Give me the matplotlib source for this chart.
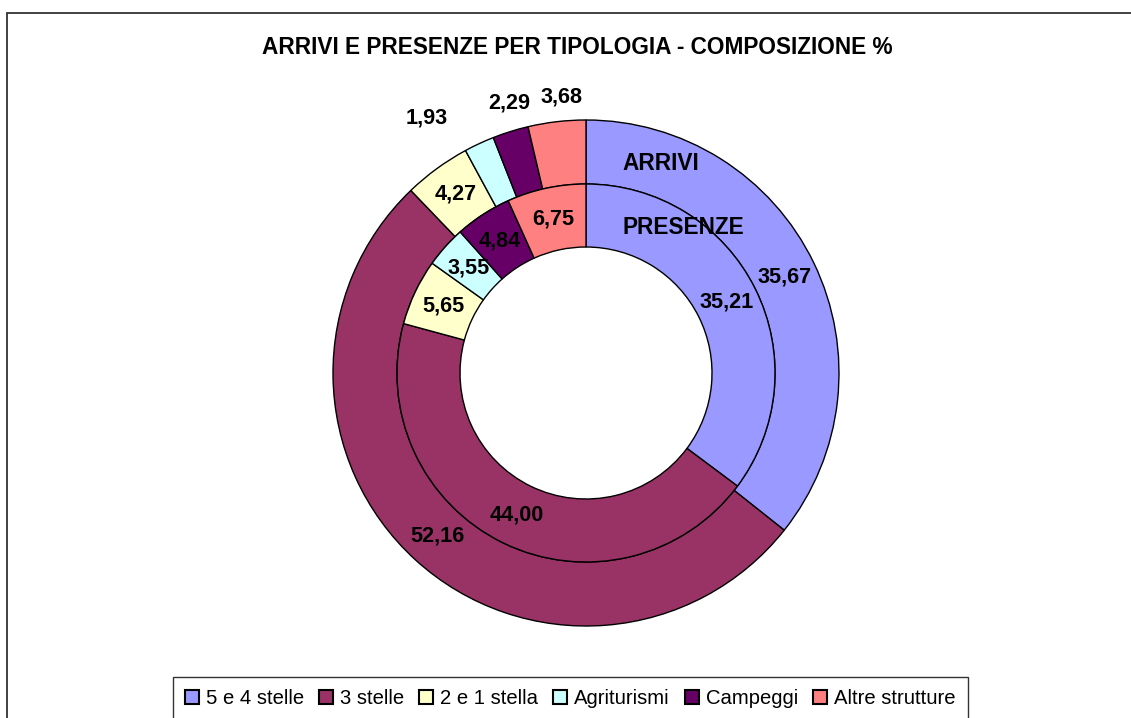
import numpy as np
import matplotlib.pyplot as plt
from matplotlib.patches import Rectangle

plt.rcParams['font.family'] = ['Liberation Sans', 'DejaVu Sans']

tipologie = ['5 e 4 stelle', '3 stelle', '2 e 1 stella', 'Agriturismi', 'Campeggi', 'Altre strutture']
arrivi = [35.67, 52.16, 4.27, 1.93, 2.29, 3.68]
presenze = [35.21, 44.00, 5.65, 3.55, 4.84, 6.75]
colori = ['#9999FF', '#993366', '#FFFFCC', '#CCFFFF', '#660066', '#FF8080']

W, H = 1131, 718
fig = plt.figure(figsize=(W / 100, H / 100), dpi=100)
ax = fig.add_axes([0, 0, 1, 1])

cx, cy = 586, H - 373
r_out, r_mid, r_in = 253, 189, 126

wp = dict(edgecolor='black', linewidth=1.0)
w_arr, _ = ax.pie(arrivi, colors=colori, radius=r_out, center=(cx, cy), startangle=90,
                  counterclock=False, wedgeprops=dict(width=r_out - r_mid, **wp), frame=True)
ax.pie(presenze, colors=colori, radius=r_mid, center=(cx, cy), startangle=90,
       counterclock=False, wedgeprops=dict(width=r_mid - r_in, **wp), frame=True)
ax.set_xlim(0, W)
ax.set_ylim(0, H)
ax.axis('off')


def fmt(v):
    return ('%.2f' % v).replace('.', ',')


def mid_angles(vals):
    c = np.cumsum(vals)
    mid = (c - np.array(vals) / 2) / np.sum(vals) * 360.0
    return mid  # gradi in senso orario dall'alto


lab = dict(fontsize=15.6, fontweight='bold', ha='center', va='center', color='black')

# presenze: etichette al centro dell'anello interno
for v, a in zip(presenze, mid_angles(presenze)):
    r = (r_mid + r_in) / 2
    t = np.radians(a)
    ax.text(cx + r * np.sin(t), cy + r * np.cos(t), fmt(v), **lab)

# arrivi: piccoli valori fuori dall'anello (spostamento angolo, raggio)
fuori = {3: (-7.0, 300), 4: (1.5, 281), 5: (1.6, 277)}
for i, (v, a) in enumerate(zip(arrivi, mid_angles(arrivi))):
    r = (r_out + r_mid) / 2
    if i in fuori:
        da, r = fuori[i]
        a = a + da
    t = np.radians(a)
    ax.text(cx + r * np.sin(t), cy + r * np.cos(t), fmt(v), **lab)

ax.text(622, H - 163, 'ARRIVI', fontsize=16.3, fontweight='bold', ha='left', va='center')
ax.text(622, H - 228, 'PRESENZE', fontsize=16.3, fontweight='bold', ha='left', va='center')

ax.text(577, H - 48, 'ARRIVI E PRESENZE PER TIPOLOGIA - COMPOSIZIONE %',
        fontsize=16.3, fontweight='bold', ha='center', va='center')

# cornice del grafico
ax.add_patch(Rectangle((7, -20), W + 20, H - 13 + 20, fill=False, edgecolor='#333333',
                       linewidth=1.3, clip_on=False))

leg = ax.legend(w_arr, tipologie, loc='upper left', bbox_to_anchor=(173, H - 677),
                bbox_transform=ax.transData, ncol=6, frameon=True, fancybox=False,
                fontsize=14.6, handlelength=0.7, handleheight=0.7, handletextpad=0.35,
                columnspacing=0.72, borderpad=0.6, borderaxespad=0)
leg.get_frame().set_edgecolor('black')
leg.get_frame().set_linewidth(1.0)
for h in leg.legend_handles:
    h.set_linewidth(1.5)

fig.savefig('out.png', dpi=100)
